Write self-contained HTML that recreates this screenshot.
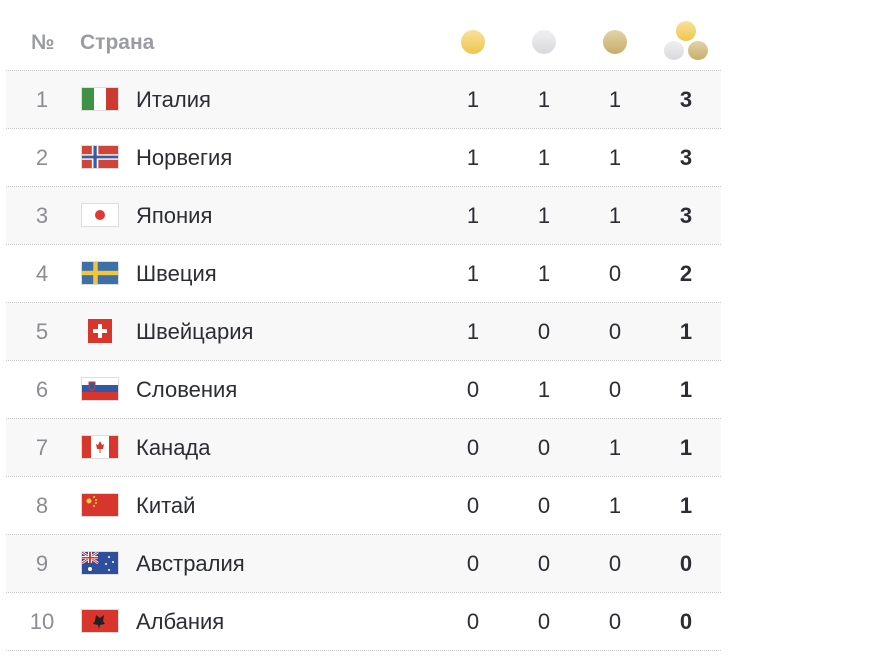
<!DOCTYPE html>
<html><head><meta charset="utf-8"><style>
body{margin:0;background:#fff;width:870px;height:666px;overflow:hidden;font-family:"Liberation Sans",sans-serif;}
.t{position:absolute;left:6px;top:70px;width:715px;}
.r{position:relative;height:57px;border-top:1px dotted #c8c8c8;}
.r.s{background:#f8f8f8;}
.r.last{border-bottom:1px dotted #c8c8c8;}
.n{position:absolute;left:0;width:72px;text-align:center;top:16px;font-size:22px;color:#8b8d92;}
.f{position:absolute;left:75px;top:16px;width:38px;height:24px;box-sizing:border-box;border:1px solid #ddd;overflow:hidden;}
.f svg{display:block;width:36px;height:22px}
.nm{position:absolute;left:130px;top:16px;font-size:22px;color:#2b2d33;}
.c{position:absolute;top:16px;width:40px;text-align:center;font-size:22px;color:#2b2d33;}
.h{position:absolute;top:31px;font-size:21px;font-weight:bold;color:#9a9ca1;}
.coin{position:absolute;border-radius:50%;}
.g{background:linear-gradient(#f8e19b,#eec64c)}
.sv{background:linear-gradient(#f0f0f2,#d9d9dd)}
.b{background:linear-gradient(#e2d4a6,#c6ad6a)}
</style></head><body>
<div class="h" style="left:31px">№</div>
<div class="h" style="left:80px">Страна</div>
<div class="coin g" style="left:461px;top:30px;width:24px;height:24px"></div>
<div class="coin sv" style="left:532px;top:30px;width:24px;height:24px"></div>
<div class="coin b" style="left:603px;top:30px;width:24px;height:24px"></div>
<div class="coin g" style="left:676px;top:21px;width:20px;height:20px"></div>
<div class="coin sv" style="left:664px;top:41px;width:20px;height:19px"></div>
<div class="coin b" style="left:688px;top:41px;width:20px;height:19px"></div>
<div class="t">
<div class="r s"><div class="n">1</div><div class="f"><svg viewBox="0 0 3 2" preserveAspectRatio="none"><rect width="1" height="2" fill="#3f9145"/><rect x="1" width="1" height="2" fill="#fff"/><rect x="2" width="1" height="2" fill="#cc3b2f"/></svg></div><div class="nm">Италия</div><div class="c" style="left:447px">1</div><div class="c" style="left:518px">1</div><div class="c" style="left:589px">1</div><div class="c" style="left:660px;font-weight:bold">3</div></div>
<div class="r"><div class="n">2</div><div class="f"><svg viewBox="0 0 22 16" preserveAspectRatio="none"><rect width="22" height="16" fill="#d0453a"/><rect x="6" width="4" height="16" fill="#fff"/><rect y="6" width="22" height="4" fill="#fff"/><rect x="7" width="2" height="16" fill="#3b5aa0"/><rect y="7" width="22" height="2" fill="#3b5aa0"/></svg></div><div class="nm">Норвегия</div><div class="c" style="left:447px">1</div><div class="c" style="left:518px">1</div><div class="c" style="left:589px">1</div><div class="c" style="left:660px;font-weight:bold">3</div></div>
<div class="r s"><div class="n">3</div><div class="f"><svg viewBox="0 0 36 22"><rect width="36" height="22" fill="#fff"/><circle cx="18" cy="11" r="5" fill="#e0392f"/></svg></div><div class="nm">Япония</div><div class="c" style="left:447px">1</div><div class="c" style="left:518px">1</div><div class="c" style="left:589px">1</div><div class="c" style="left:660px;font-weight:bold">3</div></div>
<div class="r"><div class="n">4</div><div class="f"><svg viewBox="0 0 16 10" preserveAspectRatio="none"><rect width="16" height="10" fill="#3d6fa8"/><rect x="5" width="2" height="10" fill="#f2c53a"/><rect y="4" width="16" height="2" fill="#f2c53a"/></svg></div><div class="nm">Швеция</div><div class="c" style="left:447px">1</div><div class="c" style="left:518px">1</div><div class="c" style="left:589px">0</div><div class="c" style="left:660px;font-weight:bold">2</div></div>
<div class="r s"><div class="n">5</div><div class="f" style="left:81px;width:26px;border:none"><svg viewBox="0 0 24 24" style="width:26px;height:24px"><rect width="24" height="24" fill="#d8362d"/><rect x="10" y="5" width="4" height="14" fill="#fff"/><rect x="5" y="10" width="14" height="4" fill="#fff"/></svg></div><div class="nm">Швейцария</div><div class="c" style="left:447px">1</div><div class="c" style="left:518px">0</div><div class="c" style="left:589px">0</div><div class="c" style="left:660px;font-weight:bold">1</div></div>
<div class="r"><div class="n">6</div><div class="f"><svg viewBox="0 0 36 22"><rect width="36" height="8" fill="#fff"/><rect y="7" width="36" height="8" fill="#2f58a8"/><rect y="14" width="36" height="8" fill="#d8362d"/><path d="M7 4h6v6l-3 3-3-3z" fill="#2f58a8" stroke="#d8362d"/></svg></div><div class="nm">Словения</div><div class="c" style="left:447px">0</div><div class="c" style="left:518px">1</div><div class="c" style="left:589px">0</div><div class="c" style="left:660px;font-weight:bold">1</div></div>
<div class="r s"><div class="n">7</div><div class="f"><svg viewBox="0 0 36 22"><rect width="36" height="22" fill="#fff"/><rect width="9" height="22" fill="#d8362d"/><rect x="27" width="9" height="22" fill="#d8362d"/><path d="M18 5l2 4 2-1-1 5h-6l-1-5 2 1z" fill="#d8362d"/><rect x="17.5" y="13" width="1" height="4" fill="#d8362d"/></svg></div><div class="nm">Канада</div><div class="c" style="left:447px">0</div><div class="c" style="left:518px">0</div><div class="c" style="left:589px">1</div><div class="c" style="left:660px;font-weight:bold">1</div></div>
<div class="r"><div class="n">8</div><div class="f"><svg viewBox="0 0 36 22"><rect width="36" height="22" fill="#d8362d"/><circle cx="7" cy="7" r="2.5" fill="#f5d33a"/><circle cx="12" cy="3" r="1" fill="#f5d33a"/><circle cx="14" cy="6" r="1" fill="#f5d33a"/><circle cx="14" cy="9" r="1" fill="#f5d33a"/><circle cx="12" cy="12" r="1" fill="#f5d33a"/></svg></div><div class="nm">Китай</div><div class="c" style="left:447px">0</div><div class="c" style="left:518px">0</div><div class="c" style="left:589px">1</div><div class="c" style="left:660px;font-weight:bold">1</div></div>
<div class="r s"><div class="n">9</div><div class="f"><svg viewBox="0 0 36 22"><rect width="36" height="22" fill="#2f4f9c"/><path d="M0 0L16 11M16 0L0 11" stroke="#fff" stroke-width="2.5"/><path d="M0 0L16 11M16 0L0 11" stroke="#d8362d" stroke-width="1"/><rect x="6" width="4" height="11" fill="#fff"/><rect y="4" width="16" height="3" fill="#fff"/><rect x="7" width="2" height="11" fill="#d8362d"/><rect y="5" width="16" height="1.5" fill="#d8362d"/><circle cx="8" cy="17" r="2" fill="#fff"/><circle cx="27" cy="5" r="1" fill="#fff"/><circle cx="31" cy="10" r="1" fill="#fff"/><circle cx="24" cy="12" r="1" fill="#fff"/><circle cx="27" cy="18" r="1" fill="#fff"/></svg></div><div class="nm">Австралия</div><div class="c" style="left:447px">0</div><div class="c" style="left:518px">0</div><div class="c" style="left:589px">0</div><div class="c" style="left:660px;font-weight:bold">0</div></div>
<div class="r last"><div class="n">10</div><div class="f"><svg viewBox="0 0 36 22"><rect width="36" height="22" fill="#d8362d"/><path d="M14 5l4 3 4-3-1 6 2 3-5 1-1 4-1-4-5-1 2-3z" fill="#222"/></svg></div><div class="nm">Албания</div><div class="c" style="left:447px">0</div><div class="c" style="left:518px">0</div><div class="c" style="left:589px">0</div><div class="c" style="left:660px;font-weight:bold">0</div></div>
</div>
</body></html>
